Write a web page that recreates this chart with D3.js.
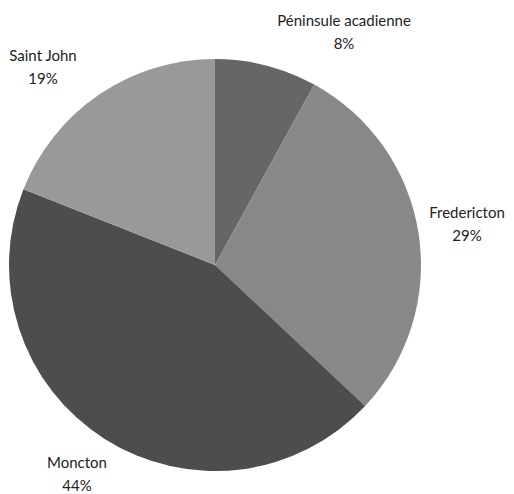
<!DOCTYPE html>
<html><head><meta charset="utf-8">
<script src="https://cdn.jsdelivr.net/npm/d3@7"></script>
<style>body{margin:0;background:#fff}</style>
</head><body>
<svg id="c" width="514" height="494"></svg>
<script>
const categories = ["Péninsule acadienne", "Fredericton", "Moncton", "Saint John"];
const values = [8, 29, 44, 19];
const colors = ["#666666", "#888888", "#4d4d4d", "#999999"];
const labelPos = [[344, 21], [467, 213], [77, 463], [43, 56]];

const svg = d3.select("#c");
const cx = 215, cy = 265, r = 206;
const pie = d3.pie().sort(null).value(d => d.v);
const arcs = pie(categories.map((c, i) => ({c, v: values[i], i})));
const arc = d3.arc().innerRadius(0).outerRadius(r);
const g = svg.append("g").attr("transform", `translate(${cx},${cy})`);
g.selectAll("path").data(arcs).join("path")
  .attr("d", arc).attr("fill", d => colors[d.data.i]);

const lab = svg.selectAll("g.lab").data(arcs).join("g").attr("class", "lab")
  .attr("transform", d => `translate(${labelPos[d.data.i][0]},${labelPos[d.data.i][1]})`)
  .attr("font-family", "Lato, sans-serif").attr("font-size", 15).attr("fill", "#222")
  .attr("text-anchor", "middle");
lab.append("text").attr("dy", "0.35em").text(d => d.data.c);
lab.append("text").attr("y", 23).attr("dy", "0.35em").text(d => d.data.v + "%");
</script>
</body></html>
